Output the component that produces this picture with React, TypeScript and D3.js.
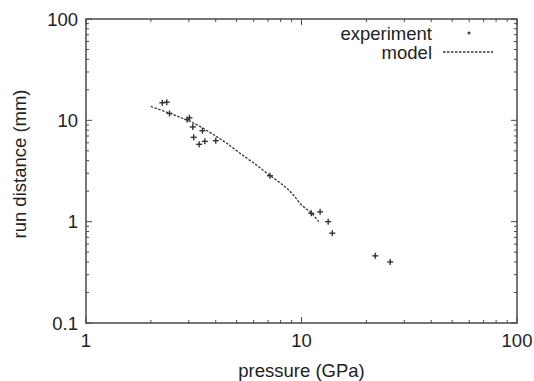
import React from "react";
import * as d3 from "d3";

const expPressure = [2.26, 2.37, 2.44, 2.95, 3.02, 3.13, 3.47, 3.16, 3.35, 3.56, 4.0, 7.14, 11.1, 12.2, 13.3, 13.9, 22.0, 25.8];
const expDistance = [14.9, 15.1, 11.7, 10.2, 10.6, 8.6, 7.9, 6.8, 5.8, 6.2, 6.3, 2.84, 1.21, 1.25, 1.0, 0.77, 0.46, 0.40];

const modelPressure = [2.0, 2.93, 3.5, 4.04, 4.5, 5.18, 6.0, 7.1, 8.38, 9.16, 10.0, 11.15, 12.0];
const modelDistance = [13.7, 10.1, 8.35, 6.9, 5.94, 4.73, 3.79, 2.88, 2.215, 1.835, 1.46, 1.21, 1.0];

const xTickLabels = ["1", "10", "100"];
const yTickLabels = ["0.1", "1", "10", "100"];

const W = 534, H = 381;
const L = 86, R = 517, T = 19, B = 323;
const FONT = "'Liberation Sans', Arial, sans-serif";
const AX = "#4a4a4a";

export default function App() {
  const x = d3.scaleLog().domain([1, 100]).range([L, R]);
  const y = d3.scaleLog().domain([0.1, 100]).range([B, T]);

  const xMinor: number[] = [];
  for (const dec of [1, 10]) for (let k = 2; k <= 9; k++) xMinor.push(dec * k);
  const yMinor: number[] = [];
  for (const dec of [0.1, 1, 10]) for (let k = 2; k <= 9; k++) yMinor.push(dec * k);

  const line = d3
    .line<number>()
    .x((_, i) => x(modelPressure[i]))
    .y((_, i) => y(modelDistance[i]))
    .curve(d3.curveCatmullRom.alpha(0.5));

  const plus = (cx: number, cy: number, s: number, key: string) => (
    <g key={key} stroke="#333" strokeWidth={1.4}>
      <line x1={cx - s} x2={cx + s} y1={cy} y2={cy} />
      <line x1={cx} x2={cx} y1={cy - s} y2={cy + s} />
    </g>
  );

  return (
    <svg width={W} height={H} style={{ position: "absolute", left: 0, top: 0, background: "#fff" }}>
      <rect x={0} y={0} width={W} height={H} fill="#fff" />
      <g stroke={AX} strokeWidth={1}>
        {xTickLabels.map((t) => {
          const px = x(+t);
          return (
            <g key={"xm" + t}>
              <line x1={px} x2={px} y1={B} y2={B - 6} />
              <line x1={px} x2={px} y1={T} y2={T + 6} />
            </g>
          );
        })}
        {xMinor.map((v) => (
          <g key={"xn" + v}>
            <line x1={x(v)} x2={x(v)} y1={B} y2={B - 3} />
            <line x1={x(v)} x2={x(v)} y1={T} y2={T + 3} />
          </g>
        ))}
        {yTickLabels.map((t) => {
          const py = y(+t);
          return (
            <g key={"ym" + t}>
              <line x1={L} x2={L + 6} y1={py} y2={py} />
              <line x1={R} x2={R - 6} y1={py} y2={py} />
            </g>
          );
        })}
        {yMinor.map((v) => (
          <g key={"yn" + v}>
            <line x1={L} x2={L + 3} y1={y(v)} y2={y(v)} />
            <line x1={R} x2={R - 3} y1={y(v)} y2={y(v)} />
          </g>
        ))}
      </g>
      <rect x={L} y={T} width={R - L} height={B - T} fill="none" stroke={AX} strokeWidth={1.5} />
      <g fontFamily={FONT} fontSize={18.5} fill="#222">
        {xTickLabels.map((t) => (
          <text key={"xl" + t} x={x(+t)} y={B + 24} textAnchor="middle">{t}</text>
        ))}
        {yTickLabels.map((t) => (
          <text key={"yl" + t} x={L - 8} y={y(+t) + 6.5} textAnchor="end">{t}</text>
        ))}
        <text x={(L + R) / 2} y={377} textAnchor="middle">pressure (GPa)</text>
        <text transform={`translate(26,164) rotate(-90)`} textAnchor="middle">run distance (mm)</text>
        <text x={432} y={40} textAnchor="end">experiment</text>
        <text x={432} y={59} textAnchor="end">model</text>
      </g>
      <path d={line(modelPressure) || ""} fill="none" stroke="#333" strokeWidth={1.3} strokeDasharray="2.5,1.5" />
      <line x1={443} x2={493} y1={52} y2={52} stroke="#333" strokeWidth={1.3} strokeDasharray="2.5,1.5" />
      {expPressure.map((p, i) => plus(x(p), y(expDistance[i]), 3, "e" + i))}
      {plus(469, 33, 1.5, "leg")}
    </svg>
  );
}
